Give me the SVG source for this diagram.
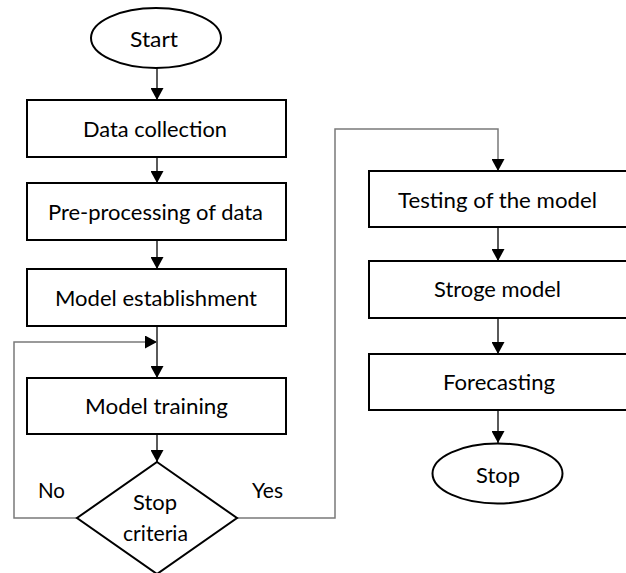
<svg xmlns="http://www.w3.org/2000/svg" width="626" height="573" viewBox="0 0 626 573">
<defs>
<marker id="ah" markerUnits="userSpaceOnUse" markerWidth="13" markerHeight="13" refX="12" refY="6.5" orient="auto">
<path d="M0,0 L12,6.5 L0,13 Z" fill="#000"/>
</marker>
<style>
.box{fill:#fff;stroke:#000;stroke-width:2}
.t{font-family:Lato,"Liberation Sans",sans-serif;font-size:22px;fill:#000;text-anchor:middle}
.c{fill:none;stroke:#000;stroke-width:1.3}
.g{fill:none;stroke:#7a7a7a;stroke-width:1.5}
</style>
</defs>
<rect width="626" height="573" fill="#fff"/>
<g id="connectors">
<line class="c" x1="157" y1="68" x2="157" y2="100" marker-end="url(#ah)"/>
<line class="c" x1="157" y1="157" x2="157" y2="183" marker-end="url(#ah)"/>
<line class="c" x1="157" y1="240" x2="157" y2="269" marker-end="url(#ah)"/>
<line class="c" x1="157" y1="326" x2="157" y2="378" marker-end="url(#ah)"/>
<line class="c" x1="157" y1="434" x2="157" y2="462" marker-end="url(#ah)"/>
<polyline class="g" points="77,518 14,518 14,342 157,342" marker-end="url(#ah)"/>
<polyline class="g" points="237,518 335,518 335,129 498,129 498,171" marker-end="url(#ah)"/>
<line class="c" x1="498" y1="227" x2="498" y2="261" marker-end="url(#ah)"/>
<line class="c" x1="498" y1="318" x2="498" y2="354" marker-end="url(#ah)"/>
<line class="c" x1="498" y1="410" x2="498" y2="443" marker-end="url(#ah)"/>
<text class="t" x="51.5" y="498" textLength="27" lengthAdjust="spacingAndGlyphs">No</text>
<text class="t" x="267.5" y="498" textLength="31" lengthAdjust="spacingAndGlyphs">Yes</text>
</g>
<g id="start">
<ellipse class="box" cx="156" cy="38" rx="65" ry="30"/>
<text class="t" x="154" y="47" textLength="48" lengthAdjust="spacingAndGlyphs">Start</text>
</g>
<g id="data-collection">
<rect class="box" x="27" y="100" width="259" height="57"/>
<text class="t" x="155" y="137" textLength="144" lengthAdjust="spacingAndGlyphs">Data collection</text>
</g>
<g id="preprocessing">
<rect class="box" x="27" y="183" width="259" height="57"/>
<text class="t" x="155.5" y="220" textLength="215" lengthAdjust="spacingAndGlyphs">Pre-processing of data</text>
</g>
<g id="model-establishment">
<rect class="box" x="27" y="269" width="259" height="57"/>
<text class="t" x="156" y="306" textLength="202" lengthAdjust="spacingAndGlyphs">Model establishment</text>
</g>
<g id="model-training">
<rect class="box" x="27" y="378" width="259" height="56"/>
<text class="t" x="156.5" y="414" textLength="143" lengthAdjust="spacingAndGlyphs">Model training</text>
</g>
<g id="stop-criteria">
<polygon class="box" points="157,462 237,518 157,574 77,518"/>
<text class="t" x="155" y="510" textLength="44" lengthAdjust="spacingAndGlyphs">Stop</text>
<text class="t" x="155.5" y="541" textLength="65" lengthAdjust="spacingAndGlyphs">criteria</text>
</g>
<g id="testing">
<rect class="box" x="369" y="171" width="259" height="56"/>
<text class="t" x="497.5" y="208" textLength="199" lengthAdjust="spacingAndGlyphs">Testing of the model</text>
</g>
<g id="stroge-model">
<rect class="box" x="369" y="261" width="259" height="57"/>
<text class="t" x="497.5" y="297" textLength="127" lengthAdjust="spacingAndGlyphs">Stroge model</text>
</g>
<g id="forecasting">
<rect class="box" x="369" y="354" width="259" height="56"/>
<text class="t" x="499" y="390" textLength="112" lengthAdjust="spacingAndGlyphs">Forecasting</text>
</g>
<g id="stop">
<ellipse class="box" cx="497.5" cy="473.5" rx="65" ry="30"/>
<text class="t" x="498" y="483" textLength="44" lengthAdjust="spacingAndGlyphs">Stop</text>
</g>
</svg>
